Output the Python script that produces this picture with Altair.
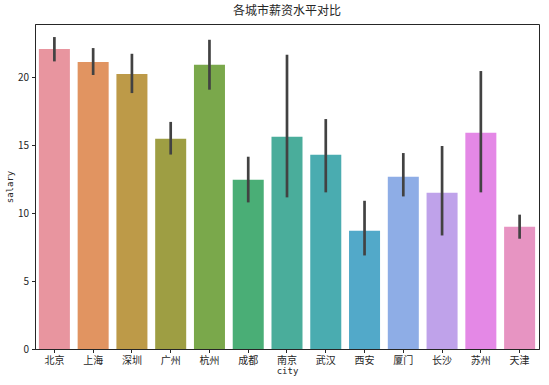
import altair as alt
import pandas as pd

cities = ["北京", "上海", "深圳", "广州", "杭州", "成都", "南京", "武汉", "西安", "厦门", "长沙", "苏州", "天津"]
salary = [22.06, 21.1, 20.22, 15.46, 20.9, 12.45, 15.61, 14.29, 8.70, 12.67, 11.49, 15.90, 8.99]
err_low = [21.15, 20.15, 18.82, 14.3, 19.07, 10.78, 11.15, 11.52, 6.88, 11.22, 8.35, 11.52, 8.11]
err_high = [22.94, 22.13, 21.71, 16.7, 22.74, 14.14, 21.64, 16.91, 10.90, 14.41, 14.93, 20.44, 9.88]
colors = ["#E8959F", "#E19461", "#BD9A48", "#9E9E43", "#7AA84B", "#4AAE76", "#4AAD9B",
          "#4AACB0", "#52A9C9", "#8EADE6", "#BFA2EA", "#E488E6", "#E794C2"]

df = pd.DataFrame({"city": cities, "salary": salary, "lo": err_low, "hi": err_high})

FONT = "Noto Sans CJK SC"
MONO = "DejaVu Sans Mono"

x = alt.X("city:N", sort=cities, title="city",
          scale=alt.Scale(paddingInner=0.2, paddingOuter=0.1),
          axis=alt.Axis(labelAngle=0, labelFontSize=10, titleFontSize=9, tickSize=3.5,
                        labelPadding=3, titlePadding=1, labelColor="#262626",
                        titleColor="#262626", domainColor="#262626", tickColor="#262626",
                        labelFont=FONT, titleFont=MONO, titleFontWeight="normal"))

bars = alt.Chart(df).mark_bar().encode(
    x=x,
    y=alt.Y("salary:Q", title="salary",
            scale=alt.Scale(domain=[0, 23.9], nice=False, zero=True),
            axis=alt.Axis(values=[0, 5, 10, 15, 20], labelFontSize=10, titleFontSize=9,
                          tickSize=3.5, labelPadding=3, titlePadding=3, grid=False,
                          labelColor="#262626", titleColor="#262626",
                          domainColor="#262626", tickColor="#262626",
                          labelFont=FONT, titleFont=MONO, titleFontWeight="normal")),
    color=alt.Color("city:N", sort=cities, scale=alt.Scale(domain=cities, range=colors), legend=None),
)

errs = alt.Chart(df).mark_rule(color="#424242", strokeWidth=2.7).encode(
    x=alt.X("city:N", sort=cities),
    y="lo:Q",
    y2="hi:Q",
)

chart = alt.layer(bars, errs).properties(
    width=504, height=325,
    title=alt.TitleParams("各城市薪资水平对比", fontSize=12, font=FONT, fontWeight="normal",
                          color="#262626", offset=6),
    autosize=alt.AutoSizeParams(type="none"),
    padding={"left": 35, "top": 24, "right": 10, "bottom": 36},
).configure_view(stroke="#262626", strokeWidth=1).configure_axis(grid=False)

chart.save("out.html", embed_options={"renderer": "svg", "actions": False})
